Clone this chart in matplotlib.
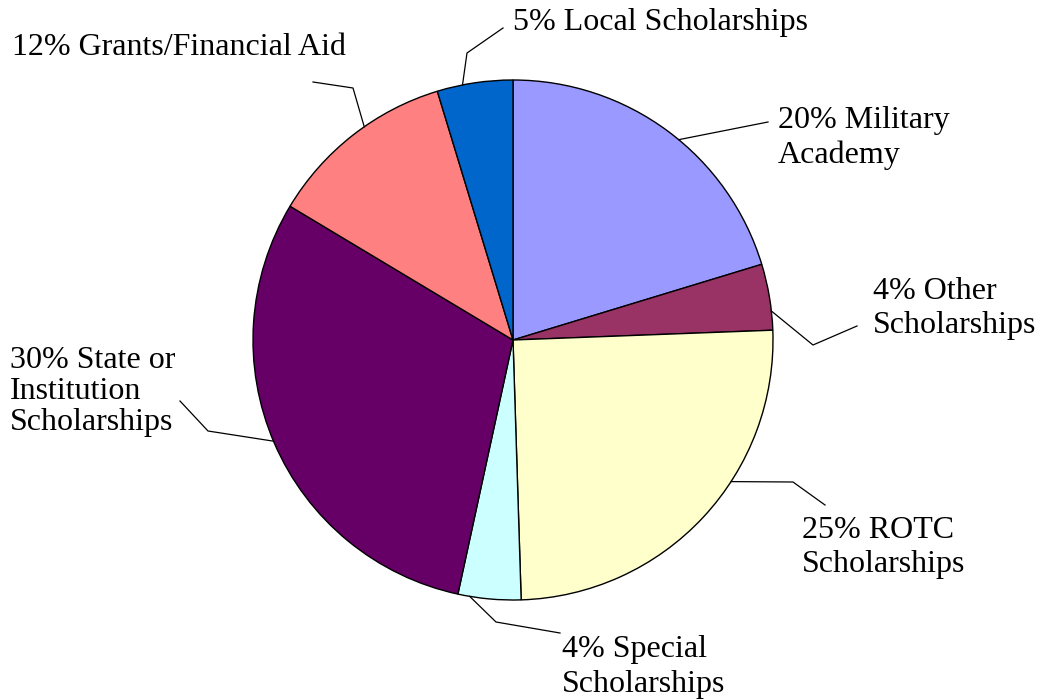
import numpy as np
import matplotlib
matplotlib.use('Agg')
import matplotlib.pyplot as plt

labels = ['20% Military\nAcademy', '4% Other\nScholarships', '25% ROTC\nScholarships',
          '4% Special\nScholarships', '30% State or\nInstitution\nScholarships',
          '12% Grants/Financial Aid', '5% Local Scholarships']
values = [20.3, 4.1, 25.1, 3.9, 30.2, 11.7, 4.7]
colors = ['#9999FF', '#993366', '#FFFFCC', '#CCFFFF', '#660066', '#FF8080', '#0066CC']

H = 700
cx, cy, r = 513, H - 340, 260

# layout in pixels (y from top): last-line baseline, line spacing,
# angle where the leader touches the pie, elbow point, leader end
label_pos = [(778, 163, 1.24), (873, 333, 1.24), (802, 572, 1.24), (562, 692, 1.27),
             (10, 430, 1.09), (12, 55, 1.0), (513, 30, 1.0)]
leader_ang = [50.4, 6.4, -33.0, -99.6, -157.1, 124.9, 101.2]
elbows = [None, (813, 345), (793, 482), (496, 622), (208, 431), (353, 88), (467, 53)]
line_end = [(768, 122), (857, 326), (825, 505), (560, 633), (180, 401), (313, 82), (503, 28)]

fig = plt.figure(figsize=(10.42, 7), dpi=100)
ax = fig.add_axes([0, 0, 1, 1])
wedges, _ = ax.pie(values, colors=colors, startangle=90, counterclock=False,
                   center=(cx, cy), radius=r, frame=True,
                   wedgeprops=dict(edgecolor='black', linewidth=1.0))
ax.set_xlim(0, 1042)
ax.set_ylim(0, H)
ax.axis('off')

for lab, (tx, ty, ls), ang, elbow, end in zip(labels, label_pos, leader_ang, elbows, line_end):
    a = np.deg2rad(ang)
    xs = [cx + r * np.cos(a)]
    ys = [cy + r * np.sin(a)]
    if elbow is not None:
        xs.append(elbow[0])
        ys.append(H - elbow[1])
    xs.append(end[0])
    ys.append(H - end[1])
    ax.plot(xs, ys, color='black', linewidth=0.9)
    ax.text(tx, H - ty, lab, ha='left', va='baseline',
            fontsize=23, family='Liberation Serif', linespacing=ls)

fig.savefig('out.png', dpi=100)
